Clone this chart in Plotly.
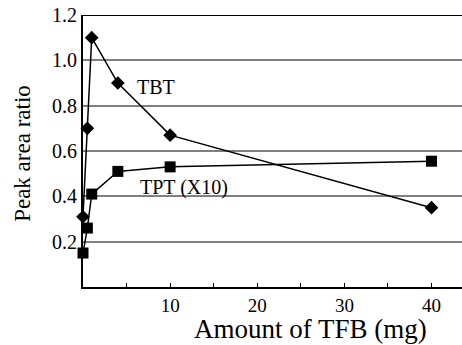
import plotly.graph_objects as go

tfb_mg = [0, 0.5, 1, 4, 10, 40]
tbt_ratio = [0.31, 0.70, 1.10, 0.90, 0.67, 0.35]
tpt_ratio = [0.15, 0.26, 0.41, 0.51, 0.53, 0.555]

x_tick_vals = [5, 10, 15, 20, 25, 30, 35, 40]
x_tick_text = ["", "10", "", "20", "", "30", "", "40"]
y_tick_vals = [0.2, 0.4, 0.6, 0.8, 1.0, 1.2]
y_tick_text = ["0.2", "0.4", "0.6", "0.8", "1.0", "1.2"]

serif = "Liberation Serif"

fig = go.Figure()
fig.add_trace(go.Scatter(
    x=tfb_mg, y=tbt_ratio, mode="lines+markers", name="TBT",
    line=dict(color="black", width=1.5),
    marker=dict(symbol="diamond", size=10.5, color="black"),
    cliponaxis=False,
))
fig.add_trace(go.Scatter(
    x=tfb_mg, y=tpt_ratio, mode="lines+markers", name="TPT (X10)",
    line=dict(color="black", width=1.5),
    marker=dict(symbol="square", size=11, color="black"),
    cliponaxis=False,
))

fig.update_layout(
    width=462, height=345,
    margin=dict(l=83, r=0, t=15, b=58),
    paper_bgcolor="white", plot_bgcolor="white",
    showlegend=False,
    font=dict(family=serif, size=19, color="black"),
    xaxis=dict(
        range=[0, 43.5], tickvals=x_tick_vals, ticktext=x_tick_text,
        ticks="inside", ticklen=4, tickcolor="black", tickwidth=1,
        showline=True, linecolor="black", linewidth=2, showgrid=False, zeroline=False,
        tickfont=dict(family=serif, size=19),
    ),
    yaxis=dict(
        range=[0, 1.2], tickvals=y_tick_vals, ticktext=y_tick_text,
        ticks="", showline=True, linecolor="black", linewidth=2,
        showgrid=True, gridcolor="#808080", gridwidth=1.5, zeroline=False,
        tickfont=dict(family=serif, size=20),
    ),
    shapes=[
        dict(type="line", xref="paper", yref="y", x0=0, x1=1, y0=1.2, y1=1.2,
             line=dict(color="black", width=2)),
        dict(type="line", xref="paper", yref="y", x0=0, x1=1, y0=0.2, y1=0.2,
             line=dict(color="#111111", width=1.3), layer="below"),
    ],
)
fig.add_annotation(x=6.0, y=0.882, xref="x", yref="y", text="TBT", showarrow=False,
                   xanchor="left", yanchor="middle", font=dict(family=serif, size=20, color="black"))
fig.add_annotation(x=6.3, y=0.437, xref="x", yref="y", text="TPT (X10)", showarrow=False,
                   xanchor="left", yanchor="middle", font=dict(family=serif, size=20, color="black"))
fig.add_annotation(x=0.6, y=-0.155, xref="paper", yref="paper", text="Amount of TFB (mg)",
                   showarrow=False, xanchor="center", yanchor="middle", font=dict(family=serif, size=27))
fig.add_annotation(x=-0.158, y=0.49, xref="paper", yref="paper", text="Peak area ratio",
                   showarrow=False, xanchor="center", yanchor="middle", textangle=-90,
                   font=dict(family=serif, size=23))

fig.write_html("out.html")
